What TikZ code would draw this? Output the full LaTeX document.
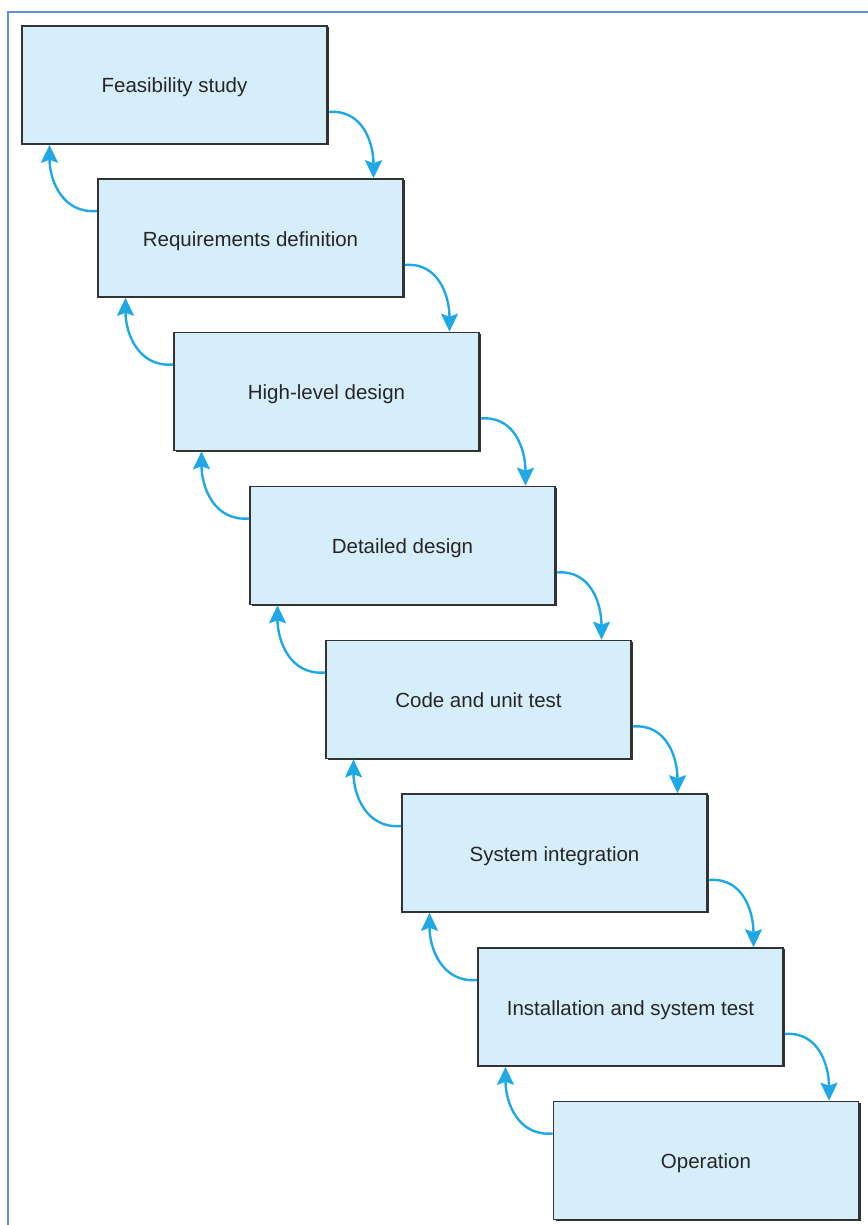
\documentclass[tikz,border=0pt]{standalone}
\usepackage{fontspec}
\setmainfont{Liberation Sans}
\usetikzlibrary{arrows.meta,shadows}
\definecolor{boxfill}{HTML}{D6EEFA}
\definecolor{boxline}{HTML}{333333}
\definecolor{flow}{HTML}{1EA9E6}
\definecolor{frame}{HTML}{5E90D2}
\newcommand{\phasetext}[1]{\raisebox{-8pt}[0pt][0pt]{#1}}
\begin{document}
\begin{tikzpicture}[x=1pt,y=-1pt,
  phase/.style={rectangle, draw=boxline, line width=1.6pt, fill=boxfill,
    minimum width=305pt, minimum height=118pt, inner sep=0pt,
    text=black!85, font=\fontsize{20.5}{24}\selectfont,
    general shadow={shadow xshift=2.2pt, shadow yshift=-1.4pt, fill=boxline}},
  flowarrow/.style={draw=flow, line width=2.4pt,
    -{Stealth[length=18pt,width=17pt,inset=3pt]}},
  framelin/.style={draw=frame, line width=2.2pt}]
\useasboundingbox (0,0) rectangle (867,1225);
% outer frame, open at the right and bottom
\draw[framelin] (8,1226) -- (8,12) -- (868,12);
% the eight phases, each one step down and to the right
\node[phase] (b1) at (174.5, 85.0) {\phasetext{Feasibility study}};
\node[phase] (b2) at (250.5,238.0) {\phasetext{Requirements definition}};
\node[phase] (b3) at (326.5,391.5) {\phasetext{High-level design}};
\node[phase] (b4) at (402.5,545.5) {\phasetext{Detailed design}};
\node[phase] (b5) at (478.5,699.5) {\phasetext{Code and unit test}};
\node[phase] (b6) at (554.5,853.0) {\phasetext{System integration}};
\node[phase] (b7) at (630.5,1007.0) {\phasetext{Installation and system test}};
\node[phase] (b8) at (706.0,1160.5) {\phasetext{Operation}};
% forward and backward transitions between consecutive phases
\foreach \a/\b in {b1/b2,b2/b3,b3/b4,b4/b5,b5/b6,b6/b7,b7/b8}{
  \draw[flowarrow] ([yshift=-27pt,xshift=1pt]\a.east) to[out=5,in=90,looseness=1.1]
    ([xshift=123pt]\b.north);
  \draw[flowarrow] ([yshift=27pt]\b.west) to[out=185,in=-90,looseness=1.1]
    ([xshift=-125pt]\a.south);
}
\end{tikzpicture}
\end{document}
